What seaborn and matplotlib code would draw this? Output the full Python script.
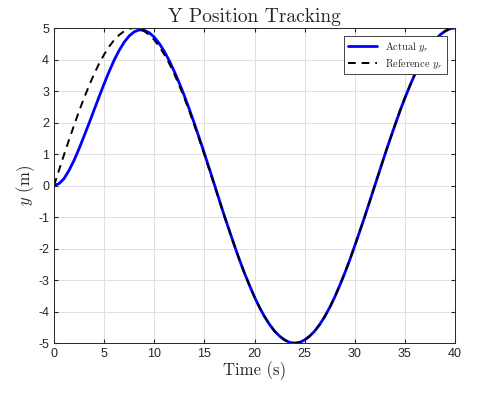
import seaborn as sns
import matplotlib.pyplot as plt

# time samples (s), every 0.5 s
t = [k * 0.5 for k in range(81)]

# reference y_r (m)
y_ref = [0.0, 0.49, 0.98, 1.45, 1.91, 2.36, 2.78, 3.17, 3.54, 3.87,
         4.16, 4.41, 4.62, 4.78, 4.9, 4.98, 5.0, 4.98, 4.9, 4.78,
         4.62, 4.41, 4.16, 3.87, 3.54, 3.17, 2.78, 2.36, 1.91, 1.45,
         0.98, 0.49, 0.0, -0.49, -0.98, -1.45, -1.91, -2.36, -2.78, -3.17,
         -3.54, -3.87, -4.16, -4.41, -4.62, -4.78, -4.9, -4.98, -5.0, -4.98,
         -4.9, -4.78, -4.62, -4.41, -4.16, -3.87, -3.54, -3.17, -2.78, -2.36,
         -1.91, -1.45, -0.98, -0.49, 0.0, 0.49, 0.98, 1.45, 1.91, 2.36,
         2.78, 3.17, 3.54, 3.87, 4.16, 4.41, 4.62, 4.78, 4.9, 4.98, 5.0]

# actual y_r (m)
y_act = [0.0, 0.06, 0.22, 0.48, 0.8, 1.17, 1.57, 1.98, 2.4, 2.82,
         3.23, 3.62, 3.98, 4.29, 4.55, 4.75, 4.88, 4.94, 4.93, 4.85,
         4.71, 4.51, 4.26, 3.96, 3.62, 3.25, 2.85, 2.42, 1.97, 1.5,
         1.02, 0.53, 0.03, -0.47, -0.97, -1.44, -1.91, -2.36, -2.78, -3.17,
         -3.54, -3.87, -4.16, -4.41, -4.62, -4.78, -4.9, -4.98, -5.0, -4.98,
         -4.9, -4.78, -4.62, -4.41, -4.16, -3.87, -3.54, -3.17, -2.78, -2.36,
         -1.91, -1.45, -0.98, -0.49, 0.0, 0.49, 0.98, 1.45, 1.91, 2.36,
         2.78, 3.17, 3.54, 3.87, 4.16, 4.41, 4.62, 4.78, 4.9, 4.98, 5.0]

x_ticks = [0, 5, 10, 15, 20, 25, 30, 35, 40]
y_ticks = [-5, -4, -3, -2, -1, 0, 1, 2, 3, 4, 5]

sns.set_style("whitegrid")
plt.rcParams['font.family'] = ['Liberation Sans', 'DejaVu Sans']
plt.rcParams['mathtext.fontset'] = 'cm'
plt.rcParams['axes.unicode_minus'] = False

fig = plt.figure(figsize=(4.8, 3.98), dpi=100)
ax = fig.add_axes([0.1125, 0.138, 0.8355, 0.7916])

sns.lineplot(x=t, y=y_act, ax=ax, color="#0000ff", linewidth=2.0,
             label=r"Actual $y_r$")
sns.lineplot(x=t, y=y_ref, ax=ax, color="black", linewidth=1.4,
             linestyle=(0, (4, 3)), label=r"Reference $y_r$")

ax.set_xlim(0, 40)
ax.set_ylim(-5, 5)
ax.set_xticks(x_ticks)
ax.set_yticks(y_ticks)
ax.tick_params(labelsize=9, colors="#262626", length=3, direction="in",
               top=True, right=True, bottom=True, left=True)
ax.grid(True, color="#e0e0e0", linewidth=0.7)
for s in ax.spines.values():
    s.set_color("#262626")
    s.set_linewidth(0.7)

serif = ['cmr10', 'DejaVu Serif']
ax.set_title("Y Position Tracking", fontsize=14, family=serif, pad=4)
ax.set_xlabel("Time (s)", fontsize=12, family=serif, labelpad=1)
ax.set_ylabel(r"$y$ (m)", fontsize=12, family=serif, labelpad=1)

leg = ax.legend(loc="upper right", handlelength=2.8,
                fancybox=False, framealpha=1, borderaxespad=0.8,
                borderpad=0.35, labelspacing=0.25,
                prop={'family': serif, 'size': 7.5})
leg.get_frame().set_edgecolor("#262626")
leg.get_frame().set_linewidth(0.6)

fig.savefig("out.png", dpi=100)
